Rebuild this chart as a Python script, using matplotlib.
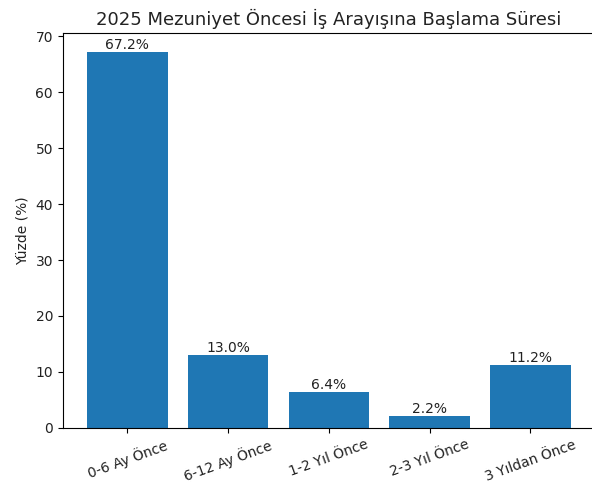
import matplotlib
matplotlib.use("Agg")
import matplotlib.pyplot as plt

categories = ["0-6 Ay Önce", "6-12 Ay Önce", "1-2 Yıl Önce", "2-3 Yıl Önce", "3 Yıldan Önce"]
percentages = [67.2, 13.0, 6.4, 2.2, 11.2]

fig, ax = plt.subplots(figsize=(5.92, 4.93), dpi=100)
fig.subplots_adjust(left=0.106, right=1.005, top=0.933, bottom=0.132)

bars = ax.bar(categories, percentages, color="#1f77b4")
for b, v in zip(bars, percentages):
    ax.text(b.get_x() + b.get_width() / 2, v, "%.1f%%" % v,
            ha="center", va="bottom", fontsize=10, color="#222222")

ax.set_title("2025 Mezuniyet Öncesi İş Arayışına Başlama Süresi", fontsize=13, color="#222222")
ax.set_ylabel("Yüzde (%)", color="#222222")
plt.xticks(rotation=20)
ax.tick_params(labelcolor="#222222")
ax.spines["right"].set_visible(False)

fig.savefig("out.png", dpi=100)
